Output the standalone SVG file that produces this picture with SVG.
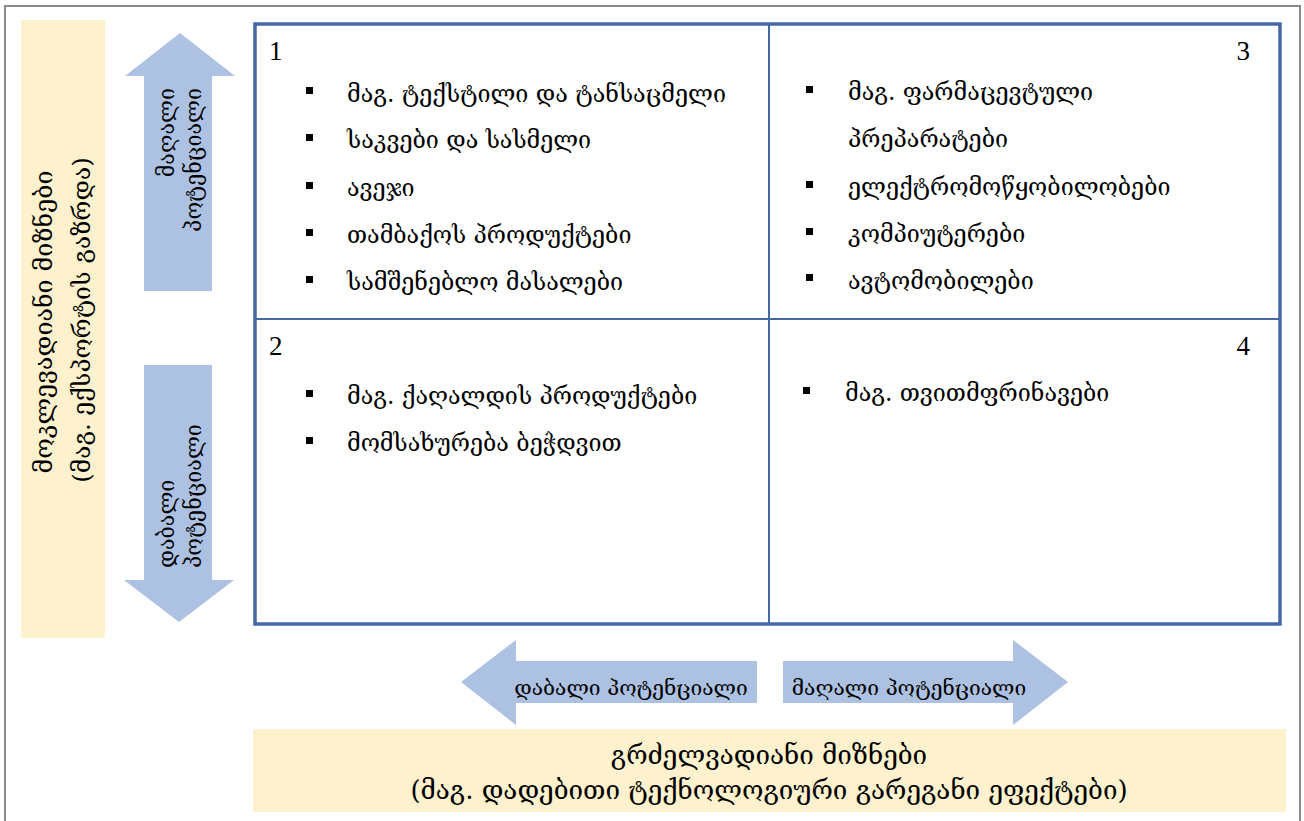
<svg xmlns="http://www.w3.org/2000/svg" width="1304" height="821" viewBox="0 0 1304 821">
<style>
  .t { font-family: "DejaVu Serif", "DejaVu Sans", serif; fill: #000; }
  .num { font-family: "Liberation Serif", "DejaVu Serif", serif; font-size: 27px; fill: #000; }
  .item { font-size: 23.3px; }
  .arr { fill: #adc2e2; }
  .yel { fill: #fef1cd; }
  .grid { fill: #fff; stroke: #4469a0; stroke-width: 3.5; }
  .div { stroke: #4469a0; stroke-width: 2; fill: none; }
  .bul { fill: #000; }
</style>
<rect x="0" y="0" width="1304" height="821" fill="#fff"/>
<path d="M5 821 V6 H1300 V821" fill="none" stroke="#8c8c8c" stroke-width="2"/>

<g id="short-term">
  <rect class="yel" x="21" y="20" width="84" height="618"/>
  <text class="t" font-size="25" text-anchor="middle" transform="translate(52,322) rotate(-90)">მოკლევადიანი მიზნები</text>
  <text class="t" font-size="24.5" text-anchor="middle" transform="translate(90,320) rotate(-90)">(მაგ. ექსპორტის გაზრდა)</text>
</g>

<g id="long-term">
  <rect class="yel" x="253" y="729" width="1033" height="83"/>
  <text class="t" font-size="26" text-anchor="middle" x="769" y="764">გრძელვადიანი მიზნები</text>
  <text class="t" font-size="26" text-anchor="middle" x="769" y="799">(მაგ. დადებითი ტექნოლოგიური გარეგანი ეფექტები)</text>
</g>

<g id="arrow-up-high">
  <polygon class="arr" points="180,33 235,76 212,76 212,291 144,291 144,76 125,76"/>
  <text class="t" font-size="21.5" text-anchor="end" transform="translate(174,88) rotate(-90)">მაღალი</text>
  <text class="t" font-size="21.5" text-anchor="end" transform="translate(201,88) rotate(-90)">პოტენციალი</text>
</g>

<g id="arrow-down-low">
  <polygon class="arr" points="144,365 212,365 212,580 234,580 179,622 124,580 144,580"/>
  <text class="t" font-size="21.5" text-anchor="start" transform="translate(174,568) rotate(-90)">დაბალი</text>
  <text class="t" font-size="21.5" text-anchor="start" transform="translate(201,568) rotate(-90)">პოტენციალი</text>
</g>

<g id="arrow-left-low">
  <polygon class="arr" points="461,682 516,640 516,661 757,661 757,703 516,703 516,725"/>
  <text class="t" font-size="21" text-anchor="middle" x="631" y="695">დაბალი პოტენციალი</text>
</g>

<g id="arrow-right-high">
  <polygon class="arr" points="783,661 1013,661 1013,640 1068,682 1013,725 1013,703 783,703"/>
  <text class="t" font-size="21" text-anchor="middle" x="909" y="695">მაღალი პოტენციალი</text>
</g>

<g id="connectors">
  <rect class="grid" x="255" y="24" width="1025" height="600"/>
  <line class="div" x1="769" y1="24" x2="769" y2="624"/>
  <line class="div" x1="255" y1="319" x2="1280" y2="319"/>
</g>

<g id="q1">
  <text class="num" x="269" y="60">1</text>
  <rect class="bul" x="306" y="87" width="7" height="7"/>
  <text class="t item" x="347" y="102">მაგ. ტექსტილი და ტანსაცმელი</text>
  <rect class="bul" x="306" y="134" width="7" height="7"/>
  <text class="t item" x="347" y="148">საკვები და სასმელი</text>
  <rect class="bul" x="306" y="182" width="7" height="7"/>
  <text class="t item" x="347" y="196">ავეჯი</text>
  <rect class="bul" x="306" y="229" width="7" height="7"/>
  <text class="t item" x="347" y="243">თამბაქოს პროდუქტები</text>
  <rect class="bul" x="306" y="276" width="7" height="7"/>
  <text class="t item" x="347" y="290">სამშენებლო მასალები</text>
</g>

<g id="q3">
  <text class="num" x="1250" y="60" text-anchor="end">3</text>
  <rect class="bul" x="806" y="86" width="7" height="7"/>
  <text class="t item" x="848" y="100">მაგ. ფარმაცევტული</text>
  <text class="t item" x="848" y="147">პრეპარატები</text>
  <rect class="bul" x="806" y="181" width="7" height="7"/>
  <text class="t item" x="848" y="195">ელექტრომოწყობილობები</text>
  <rect class="bul" x="806" y="228" width="7" height="7"/>
  <text class="t item" x="848" y="242">კომპიუტერები</text>
  <rect class="bul" x="806" y="274" width="7" height="7"/>
  <text class="t item" x="848" y="289">ავტომობილები</text>
</g>

<g id="q2">
  <text class="num" x="269" y="355">2</text>
  <rect class="bul" x="306" y="390" width="7" height="7"/>
  <text class="t item" x="347" y="404">მაგ. ქაღალდის პროდუქტები</text>
  <rect class="bul" x="306" y="437" width="7" height="7"/>
  <text class="t item" x="347" y="451">მომსახურება ბეჭდვით</text>
</g>

<g id="q4">
  <text class="num" x="1250" y="355" text-anchor="end">4</text>
  <rect class="bul" x="803" y="387" width="7" height="7"/>
  <text class="t item" x="845" y="401">მაგ. თვითმფრინავები</text>
</g>
</svg>
